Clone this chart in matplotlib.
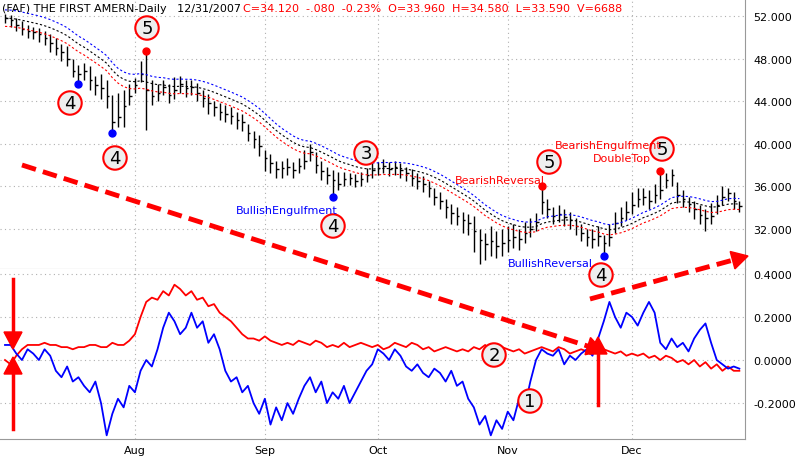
import numpy as np
import pandas as pd
import matplotlib
matplotlib.use("Agg")
import matplotlib.pyplot as plt
from matplotlib.lines import Line2D

dates = pd.bdate_range("2007-06-29", "2007-12-31")
close = [51.8,51.6,51.2,50.8,50.6,50.5,50.3,49.9,49.5,49.0,
         48.6,48.0,46.8,46.5,46.8,46.0,45.5,45.2,44.5,42.0,
         42.5,43.5,44.5,45.5,46.5,45.0,44.5,44.8,45.3,44.6,
         45.0,45.6,45.2,45.3,44.8,44.3,43.8,43.4,43.0,42.8,
         42.6,42.2,42.0,41.0,40.4,39.8,38.6,38.2,37.6,37.7,
         37.8,37.5,37.9,38.4,39.2,38.0,37.4,37.0,36.6,36.2,
         36.7,36.8,36.5,36.7,37.0,37.5,37.7,37.9,37.6,37.8,
         37.5,37.2,36.8,36.5,36.2,35.8,35.0,34.6,34.0,33.5,
         33.2,32.8,32.5,31.8,30.9,30.5,30.8,30.4,30.6,30.9,
         31.2,31.0,31.6,32.0,32.6,34.5,33.8,33.2,33.4,33.1,
         32.8,32.2,31.6,31.2,31.0,31.3,30.6,31.2,32.5,33.0,
         33.6,34.2,34.8,35.0,34.6,35.2,35.6,36.6,37.0,35.2,
         34.8,34.3,33.8,33.3,33.0,33.2,34.2,35.0,35.3,34.6,34.12]
high = [52.2,52.1,51.8,51.5,51.2,51.0,50.9,50.6,50.3,49.9,
        49.4,49.2,48.0,47.4,47.6,47.3,46.4,46.5,46.0,44.6,
        44.8,45.0,45.6,46.2,47.8,48.7,46.0,45.6,46.0,45.6,
        46.3,46.4,46.0,46.0,45.7,45.0,44.7,44.0,43.8,43.6,
        43.4,43.0,42.8,41.8,41.2,40.8,39.4,39.0,38.4,38.4,
        38.6,38.3,38.6,39.4,40.0,39.2,38.4,37.8,37.5,37.3,
        37.3,37.2,37.1,37.3,37.7,38.2,38.3,38.5,38.3,38.4,
        38.2,37.8,37.6,37.2,36.9,36.5,35.8,35.4,34.8,34.3,
        34.0,33.6,33.4,33.2,32.0,31.6,32.2,31.8,32.0,32.2,
        32.4,32.0,32.6,33.0,33.5,36.0,34.8,34.0,34.2,33.8,
        33.6,33.0,32.4,32.0,32.0,32.2,31.4,32.4,33.6,34.0,
        34.6,35.4,35.8,35.8,35.6,36.2,37.4,37.2,37.6,36.4,
        35.6,35.0,34.6,34.2,33.8,34.4,35.2,36.0,35.8,35.4,34.58]
low = [51.3,51.0,50.6,50.2,49.9,49.8,49.6,49.3,48.6,48.3,
       47.8,47.3,46.3,45.6,46.0,45.0,44.6,44.2,43.3,41.0,
       41.6,41.6,43.6,44.8,45.8,41.3,43.6,44.0,44.6,43.8,
       44.2,44.8,44.4,44.6,44.0,43.4,42.8,42.6,42.2,42.0,
       41.8,41.4,41.2,40.2,39.6,38.8,37.4,37.2,36.8,36.8,
       37.0,36.8,37.2,37.6,38.4,37.2,36.6,36.2,35.0,35.6,
       36.0,36.1,35.9,36.0,36.4,36.8,37.0,37.2,36.9,37.0,
       36.8,36.5,36.0,35.7,35.4,35.0,34.2,33.8,33.0,32.4,
       32.3,31.6,31.4,29.8,28.7,29.0,29.4,29.2,29.4,29.8,
       30.2,30.0,30.6,31.2,31.8,33.4,33.0,32.4,32.6,32.2,
       32.0,31.4,30.8,30.4,30.2,30.4,29.4,30.4,31.6,32.2,
       32.8,33.4,34.0,34.2,33.8,34.4,34.8,35.8,36.0,34.4,
       34.0,33.6,32.9,32.4,31.8,32.4,33.4,34.2,34.6,33.8,33.59]
red_line = [0.00,-0.02,0.02,0.05,0.07,0.07,0.07,0.08,0.07,0.07,0.06,0.06,0.05,0.06,0.06,0.07,0.07,0.06,0.06,0.08,
            0.07,0.07,0.09,0.12,0.20,0.27,0.29,0.28,0.32,0.30,0.35,0.33,0.30,0.32,0.28,0.29,0.25,0.26,0.22,0.20,
            0.18,0.15,0.12,0.10,0.10,0.09,0.11,0.09,0.08,0.07,0.08,0.07,0.09,0.08,0.07,0.09,0.08,0.06,0.07,0.06,
            0.08,0.06,0.07,0.08,0.07,0.06,0.07,0.05,0.06,0.08,0.07,0.06,0.08,0.07,0.05,0.06,0.04,0.05,0.06,0.05,
            0.04,0.05,0.04,0.06,0.05,0.07,0.05,0.04,0.06,0.05,0.04,0.05,0.03,0.04,0.05,0.06,0.05,0.04,0.06,0.05,
            0.03,0.04,0.05,0.04,0.05,0.03,0.05,0.04,0.03,0.04,0.02,0.03,0.02,0.03,0.01,0.02,0.00,0.02,0.01,-0.01,
            0.00,-0.02,0.00,-0.03,-0.01,-0.04,-0.02,-0.05,-0.03,-0.05,-0.05]
blue_line = [0.07,0.07,0.03,0.00,0.05,0.03,0.00,0.05,0.02,-0.05,-0.08,-0.03,-0.10,-0.08,-0.12,-0.15,-0.10,-0.20,-0.35,-0.25,
             -0.18,-0.22,-0.12,-0.15,-0.05,0.00,-0.03,0.05,0.15,0.22,0.18,0.12,0.15,0.22,0.15,0.18,0.08,0.12,0.05,-0.05,
             -0.10,-0.08,-0.15,-0.12,-0.20,-0.25,-0.18,-0.30,-0.22,-0.28,-0.20,-0.25,-0.18,-0.12,-0.08,-0.15,-0.10,-0.20,-0.15,-0.18,
             -0.12,-0.20,-0.15,-0.10,-0.05,-0.02,0.05,0.03,0.00,0.05,0.02,-0.03,-0.05,-0.02,-0.06,-0.08,-0.04,-0.06,-0.10,-0.05,
             -0.12,-0.10,-0.18,-0.22,-0.30,-0.26,-0.35,-0.28,-0.32,-0.24,-0.28,-0.18,-0.22,-0.10,0.00,0.05,0.03,0.02,0.05,-0.02,
             0.02,0.00,0.03,0.05,0.02,0.10,0.18,0.27,0.20,0.15,0.22,0.20,0.16,0.22,0.27,0.22,0.08,0.05,0.10,0.06,
             0.08,0.04,0.10,0.14,0.17,0.08,0.00,-0.02,-0.04,-0.03,-0.04]
price_ticks = [32, 36, 40, 44, 48, 52]
osc_ticks = [-0.2, 0.0, 0.2, 0.4]
months = ["Aug", "Sep", "Oct", "Nov", "Dec"]

close = np.array(close); high = np.array(high); low = np.array(low)
n = len(close)
idx = np.arange(n)
mid = pd.Series(close).ewm(span=16, adjust=False).mean().values
upper = mid * 1.015
lower = mid * 0.985

W, H = 796, 464
fig = plt.figure(figsize=(W/100, H/100), dpi=100)
fig.patch.set_facecolor("white")
def ax_rect(x0, y0, x1, y1):
    return [x0/W, 1 - y1/H, (x1-x0)/W, (y1-y0)/H]
ax = fig.add_axes(ax_rect(0, 0, 745, 270))
ax2 = fig.add_axes(ax_rect(0, 270, 745, 440), sharex=ax)

for a in (ax, ax2):
    a.set_xlim(-0.885, 131.0)
    a.grid(True, color="#b0b0b0", linestyle=(0, (1, 3)), linewidth=0.8)
    a.yaxis.tick_right()
    a.tick_params(axis="y", length=0, labelsize=8, pad=6)
    a.tick_params(axis="x", length=0, labelsize=8)
    for s in a.spines.values():
        s.set_color("#999999"); s.set_linewidth(0.8)
    a.spines["left"].set_visible(False); a.spines["top"].set_visible(False)

ax.set_ylim(28.19, 53.6)
ax.set_yticks(price_ticks)
ax.set_yticklabels([f"{v:.3f}" for v in price_ticks])
ax.vlines(idx, low, high, color="black", linewidth=1)
ax.hlines(close, idx, idx + 0.45, color="black", linewidth=1)
ax.plot(idx, upper, color="blue", linestyle=(0, (2, 2)), linewidth=0.8)
ax.plot(idx, mid, color="black", linestyle=(0, (2, 2)), linewidth=0.8)
ax.plot(idx, lower, color="red", linestyle=(0, (2, 2)), linewidth=0.8)
plt.setp(ax.get_xticklabels(), visible=False)

ax2.set_ylim(-0.367, 0.423)
ax2.set_yticks(osc_ticks)
ax2.set_yticklabels([f"{v:.4f}" for v in osc_ticks])
ax2.plot(idx, red_line, color="red", linewidth=1.3)
ax2.plot(idx, blue_line, color="blue", linewidth=1.3)
mstarts = [int(np.argmax(dates.month == m)) for m in [8, 9, 10, 11, 12]]
ax2.set_xticks(mstarts)
ax2.set_xticklabels(months)
ax2.tick_params(axis="x", pad=4)

blue_dots = [13, 19, 58, 106]
red_dots = [25, 95, 116]
ax.plot(blue_dots, [low[i] for i in blue_dots], "o", color="blue", ms=5)
ax.plot(red_dots, [high[i] for i in red_dots], "o", color="red", ms=5)

def circ(px, py, t):
    fig.text(px/W, 1 - py/H, t, ha="center", va="center", fontsize=13,
             bbox=dict(boxstyle="circle,pad=0.15", fc="#eeeeee", ec="red", lw=1.5))
for px, py, t in [(70, 104, "4"), (115, 159, "4"), (147, 29, "5"), (366, 154, "3"),
                  (333, 227, "4"), (549, 163, "5"), (662, 150, "5"), (601, 276, "4"),
                  (494, 356, "2"), (530, 402, "1")]:
    circ(px, py, t)

def ftext(px, py, t, c):
    fig.text(px/W, 1 - py/H, t, color=c, fontsize=8, ha="left", va="center")
ftext(236, 211, "BullishEngulfment", "blue")
ftext(455, 181, "BearishReversal", "red")
ftext(508, 264, "BullishReversal", "blue")
ftext(555, 146, "BearishEngulfment", "red")
ftext(593, 159, "DoubleTop", "red")

fig.text(2/W, 1 - 9/H, "(FAF) THE FIRST AMERN-Daily   12/31/2007", fontsize=8, va="center")
fig.text(243/W, 1 - 9/H, "C=34.120  -.080  -0.23%  O=33.960  H=34.580  L=33.590  V=6688",
         fontsize=8, va="center", color="red")

def fpt(p):
    return (p[0]/W, 1 - p[1]/H)
def farrow(p0, p1, dashed=True, lw=3.5, hl=16, hw=9):
    p0 = np.array(p0, float); p1 = np.array(p1, float)
    d = (p1 - p0) / np.hypot(*(p1 - p0))
    base = p1 - d * hl
    l = Line2D([fpt(p0)[0], fpt(base)[0]], [fpt(p0)[1], fpt(base)[1]], transform=fig.transFigure,
               color="red", lw=lw, linestyle=(0, (3, 1.5)) if dashed else "-")
    fig.lines.append(l)
    nrm = np.array([-d[1], d[0]])
    tri = np.array([p1, base + nrm * hw, base - nrm * hw])
    fig.patches.append(plt.Polygon([fpt(q) for q in tri], closed=True, transform=fig.transFigure,
                                   color="red"))
farrow((22, 166), (603, 352))
farrow((590, 300), (748, 257))
farrow((13, 280), (13, 350), dashed=False, lw=2.5, hl=17, hw=9)
farrow((13, 430), (13, 358), dashed=False, lw=2.5, hl=17, hw=9)
farrow((598, 406), (598, 338), dashed=False, lw=2.5, hl=17, hw=9)

fig.savefig("out.png", dpi=100)
